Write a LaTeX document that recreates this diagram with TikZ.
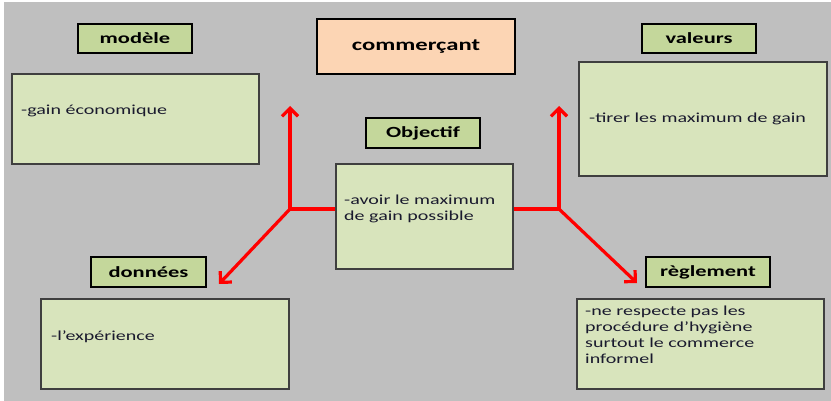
\documentclass[tikz,border=0pt]{standalone}
\usepackage{fontspec}
\setmainfont{Carlito}[FakeStretch=1.45]
\usepackage{tikz}
\usetikzlibrary{arrows.meta}
\definecolor{fondgris}{HTML}{BFBFBF}
\definecolor{vertclair}{HTML}{D8E4BC}
\definecolor{vertfonce}{HTML}{C4D79B}
\definecolor{peche}{HTML}{FCD5B4}
\definecolor{bordgris}{HTML}{3F3F3F}
\definecolor{encre}{HTML}{1A1A2E}
\tikzstyle{titre} = [rectangle, draw=black, line width=1.8pt, fill=vertfonce,
    inner sep=0pt, font=\fontsize{15.5}{18}\selectfont\bfseries]
\tikzstyle{contenu} = [rectangle, draw=bordgris, line width=1.2pt, fill=vertclair, inner sep=0pt]
\tikzstyle{texte} = [inner sep=0pt, align=left, text=encre, font=\fontsize{13.8}{16}\selectfont]

\begin{document}
\begin{tikzpicture}[x=1pt, y=-1pt, line/.style={draw=red, line width=3.2pt, -{Straight Barb[length=8pt,width=16pt]}}]
\useasboundingbox (0,0) rectangle (831,401);
\fill [fondgris] (4,2) rectangle (831,401);

% titres
\node [titre, minimum width=114, minimum height=29] at (135,38.5) (modele) {modèle};
\node [titre, fill=peche, minimum width=198, minimum height=55,
    font=\fontsize{17}{20}\selectfont\bfseries] at (416,46.5) (commercant) {commerçant};
\node [titre, minimum width=114, minimum height=29] at (699,38.5) (valeurs) {valeurs};
\node [titre, minimum width=114, minimum height=30] at (423,133) (objectif) {Objectif};
\node [titre, minimum width=115, minimum height=30] at (148.5,272) (donnees) {données};
\node [titre, minimum width=124, minimum height=30] at (708,272) (reglement) {règlement};

% contenus
\node [contenu, minimum width=247, minimum height=90] at (135.5,119) (modeleC) {};
\node [contenu, minimum width=248, minimum height=114] at (703,119) (valeursC) {};
\node [contenu, minimum width=177, minimum height=105] at (424.5,216.5) (objectifC) {};
\node [contenu, minimum width=248, minimum height=90] at (165,344) (donneesC) {};
\node [contenu, minimum width=247, minimum height=90] at (700.5,344) (reglementC) {};

\node [texte, anchor=west] at (21,111) (modeleT) {-gain économique};
\node [texte, anchor=west] at (589,119) (valeursT) {-tirer les maximum de gain};
\node [texte, anchor=west] at (344,208.5) (objectifT) {-avoir le maximum\\de gain possible};
\node [texte, anchor=west] at (51,337) (donneesT) {-l’expérience};
\node [texte, anchor=north west] at (585,306) (reglementT) {-ne respecte pas les\\procédure d’hygiène\\surtout le commerce\\informel};

% fleches
\coordinate (jg) at (290,209);
\coordinate (jd) at (559,209);
\coordinate (hautG) at (290,106);
\coordinate (basG) at (219,284);
\coordinate (hautD) at (559,106);
\coordinate (basD) at (637,283);

\draw [draw=red, line width=3.2pt] (objectifC.west |- jg) -- (jg);
\draw [draw=red, line width=3.2pt] (objectifC.east |- jd) -- (jd);
\draw [line] (jg) -- (hautG);
\draw [line] (jg) -- (basG);
\draw [line] (jd) -- (hautD);
\draw [line] (jd) -- (basD);
\end{tikzpicture}
\end{document}
